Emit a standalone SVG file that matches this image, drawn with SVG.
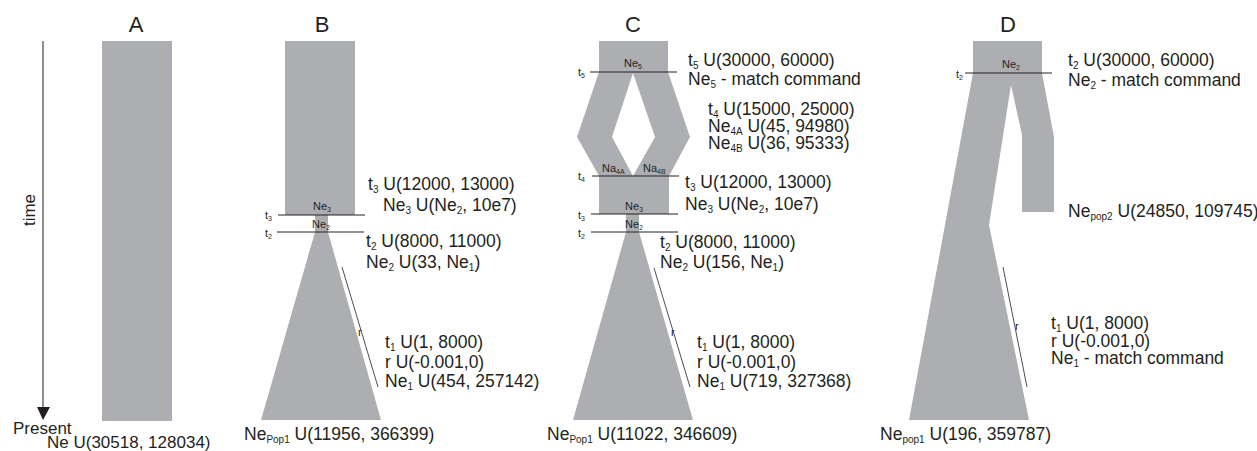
<svg xmlns="http://www.w3.org/2000/svg" width="1257" height="451" viewBox="0 0 1257 451">
<style>
text{font-family:"Liberation Sans",Arial,sans-serif;fill:#231f20}
.t{font-size:17.5px}
.a{font-size:17px}
.h{font-size:22px;text-anchor:middle}
.s{font-size:10px}
.sm{font-size:11px}
.ss{font-size:7px}
.pop{fill:#adaeb1}
.ln{stroke:#231f20;stroke-width:1}
.rl{stroke:#231f20;stroke-width:0.8}
</style>

<g id="panelA">
<text class="h" x="136" y="32">A</text>
<rect class="pop" x="102" y="41" width="70" height="380"/>
<text class="a" x="47" y="448">Ne U(30518, 128034)</text>
</g>

<g id="timeaxis">
<line x1="43" y1="41" x2="43" y2="408" stroke="#231f20" stroke-width="1"/>
<polygon points="37,407 50,407 43,420" fill="#231f20"/>
<text class="a" transform="translate(35,210) rotate(-90)" text-anchor="middle" y="0">time</text>
<text class="a" x="13" y="434">Present</text>
</g>

<g id="panelB">
<text class="h" x="322" y="32">B</text>
<rect class="pop" x="285" y="41" width="70" height="174"/>
<polygon class="pop" points="315,215 328,215 328,232 381,420 261,420 315,232"/>
<line class="ln" x1="278" y1="215" x2="365" y2="215"/>
<line class="ln" x1="277" y1="232" x2="364" y2="232"/>
<line class="rl" x1="342" y1="267" x2="378" y2="387"/>
<text class="sm" x="313" y="210">Ne<tspan class="ss" dy="2">3</tspan></text>
<text class="sm" x="312" y="228">Ne<tspan class="ss" dy="2">2</tspan></text>
<text class="sm" x="265" y="219">t<tspan class="ss" dy="2">3</tspan></text>
<text class="sm" x="265" y="237">t<tspan class="ss" dy="2">2</tspan></text>
<text class="sm" x="358" y="336">r</text>
<text class="t" x="368" y="190">t<tspan class="s" dy="3">3</tspan><tspan dy="-3"> U(12000, 13000)</tspan></text>
<text class="t" x="383" y="211">Ne<tspan class="s" dy="3">3</tspan><tspan dy="-3"> U(Ne</tspan><tspan class="s" dy="3">2</tspan><tspan dy="-3">, 10e7)</tspan></text>
<text class="t" x="366" y="247">t<tspan class="s" dy="3">2</tspan><tspan dy="-3"> U(8000, 11000)</tspan></text>
<text class="t" x="366" y="268">Ne<tspan class="s" dy="3">2</tspan><tspan dy="-3"> U(33, Ne</tspan><tspan class="s" dy="3">1</tspan><tspan dy="-3">)</tspan></text>
<text class="t" x="385" y="348">t<tspan class="s" dy="3">1</tspan><tspan dy="-3"> U(1, 8000)</tspan></text>
<text class="t" x="385" y="368">r U(-0.001,0)</text>
<text class="t" x="385" y="387">Ne<tspan class="s" dy="3">1</tspan><tspan dy="-3"> U(454, 257142)</tspan></text>
<text class="t" x="244" y="440">Ne<tspan class="s" dy="3">Pop1</tspan><tspan dy="-3"> U(11956, 366399)</tspan></text>
</g>

<g id="panelC">
<text class="h" x="633" y="32">C</text>
<path class="pop" fill-rule="evenodd" d="M599,41 L668,41 L668,72 L690,137 L669,176 L669,214 L599,214 L599,176 L577,137 L599,72 Z M633,73 L612,137 L633,176 L655,137 Z"/>
<polygon class="pop" points="626,214 639,214 639,232 693,420 573,420 626,232"/>
<line class="ln" x1="590" y1="72" x2="677" y2="72"/>
<line class="ln" x1="592" y1="176" x2="679" y2="176"/>
<line class="ln" x1="591" y1="214" x2="678" y2="214"/>
<line class="ln" x1="591" y1="232" x2="678" y2="232"/>
<line class="rl" x1="654" y1="268" x2="690" y2="387"/>
<text class="sm" x="624" y="67">Ne<tspan class="ss" dy="2">5</tspan></text>
<text class="sm" x="602" y="172">Na<tspan class="ss" dy="2">4A</tspan></text>
<text class="sm" x="643" y="172">Na<tspan class="ss" dy="2">4B</tspan></text>
<text class="sm" x="625" y="210">Ne<tspan class="ss" dy="2">3</tspan></text>
<text class="sm" x="625" y="228">Ne<tspan class="ss" dy="2">2</tspan></text>
<text class="sm" x="578" y="76">t<tspan class="ss" dy="2">5</tspan></text>
<text class="sm" x="578" y="180">t<tspan class="ss" dy="2">4</tspan></text>
<text class="sm" x="578" y="219">t<tspan class="ss" dy="2">3</tspan></text>
<text class="sm" x="578" y="237">t<tspan class="ss" dy="2">2</tspan></text>
<text class="sm" x="671" y="336">r</text>
<text class="t" x="688" y="66">t<tspan class="s" dy="3">5</tspan><tspan dy="-3"> U(30000, 60000)</tspan></text>
<text class="t" x="688" y="85">Ne<tspan class="s" dy="3">5</tspan><tspan dy="-3"> - match command</tspan></text>
<text class="t" x="708" y="115">t<tspan class="s" dy="3">4</tspan><tspan dy="-3"> U(15000, 25000)</tspan></text>
<text class="t" x="708" y="132">Ne<tspan class="s" dy="3">4A</tspan><tspan dy="-3"> U(45, 94980)</tspan></text>
<text class="t" x="708" y="149">Ne<tspan class="s" dy="3">4B</tspan><tspan dy="-3"> U(36, 95333)</tspan></text>
<text class="t" x="685" y="188">t<tspan class="s" dy="3">3</tspan><tspan dy="-3"> U(12000, 13000)</tspan></text>
<text class="t" x="685" y="210">Ne<tspan class="s" dy="3">3</tspan><tspan dy="-3"> U(Ne</tspan><tspan class="s" dy="3">2</tspan><tspan dy="-3">, 10e7)</tspan></text>
<text class="t" x="660" y="248">t<tspan class="s" dy="3">2</tspan><tspan dy="-3"> U(8000, 11000)</tspan></text>
<text class="t" x="660" y="268">Ne<tspan class="s" dy="3">2</tspan><tspan dy="-3"> U(156, Ne</tspan><tspan class="s" dy="3">1</tspan><tspan dy="-3">)</tspan></text>
<text class="t" x="697" y="348">t<tspan class="s" dy="3">1</tspan><tspan dy="-3"> U(1, 8000)</tspan></text>
<text class="t" x="697" y="368">r U(-0.001,0)</text>
<text class="t" x="697" y="387">Ne<tspan class="s" dy="3">1</tspan><tspan dy="-3"> U(719, 327368)</tspan></text>
<text class="t" x="547" y="440">Ne<tspan class="s" dy="3">Pop1</tspan><tspan dy="-3"> U(11022, 346609)</tspan></text>
</g>

<g id="panelD">
<text class="h" x="1008" y="32">D</text>
<path class="pop" d="M973,41 L1042,41 L1042,73 L1054,137 L1054,212 L1022,212 L1022,135 L1011,85 L989,225 L1029,420 L909,420 L973,73 Z"/>
<line class="ln" x1="965" y1="73" x2="1052" y2="73"/>
<line class="rl" x1="1003" y1="267" x2="1027" y2="387"/>
<text class="sm" x="1002" y="68">Ne<tspan class="ss" dy="2">2</tspan></text>
<text class="sm" x="956" y="78">t<tspan class="ss" dy="2">2</tspan></text>
<text class="sm" x="1015" y="330">r</text>
<text class="t" x="1068" y="66">t<tspan class="s" dy="3">2</tspan><tspan dy="-3"> U(30000, 60000)</tspan></text>
<text class="t" x="1068" y="86">Ne<tspan class="s" dy="3">2</tspan><tspan dy="-3"> - match command</tspan></text>
<text class="t" x="1068" y="217">Ne<tspan class="s" dy="3">pop2</tspan><tspan dy="-3"> U(24850, 109745)</tspan></text>
<text class="t" x="1051" y="329">t<tspan class="s" dy="3">1</tspan><tspan dy="-3"> U(1, 8000)</tspan></text>
<text class="t" x="1051" y="347">r U(-0.001,0)</text>
<text class="t" x="1051" y="364">Ne<tspan class="s" dy="3">1</tspan><tspan dy="-3"> - match command</tspan></text>
<text class="t" x="880" y="440">Ne<tspan class="s" dy="3">pop1</tspan><tspan dy="-3"> U(196, 359787)</tspan></text>
</g>
</svg>
